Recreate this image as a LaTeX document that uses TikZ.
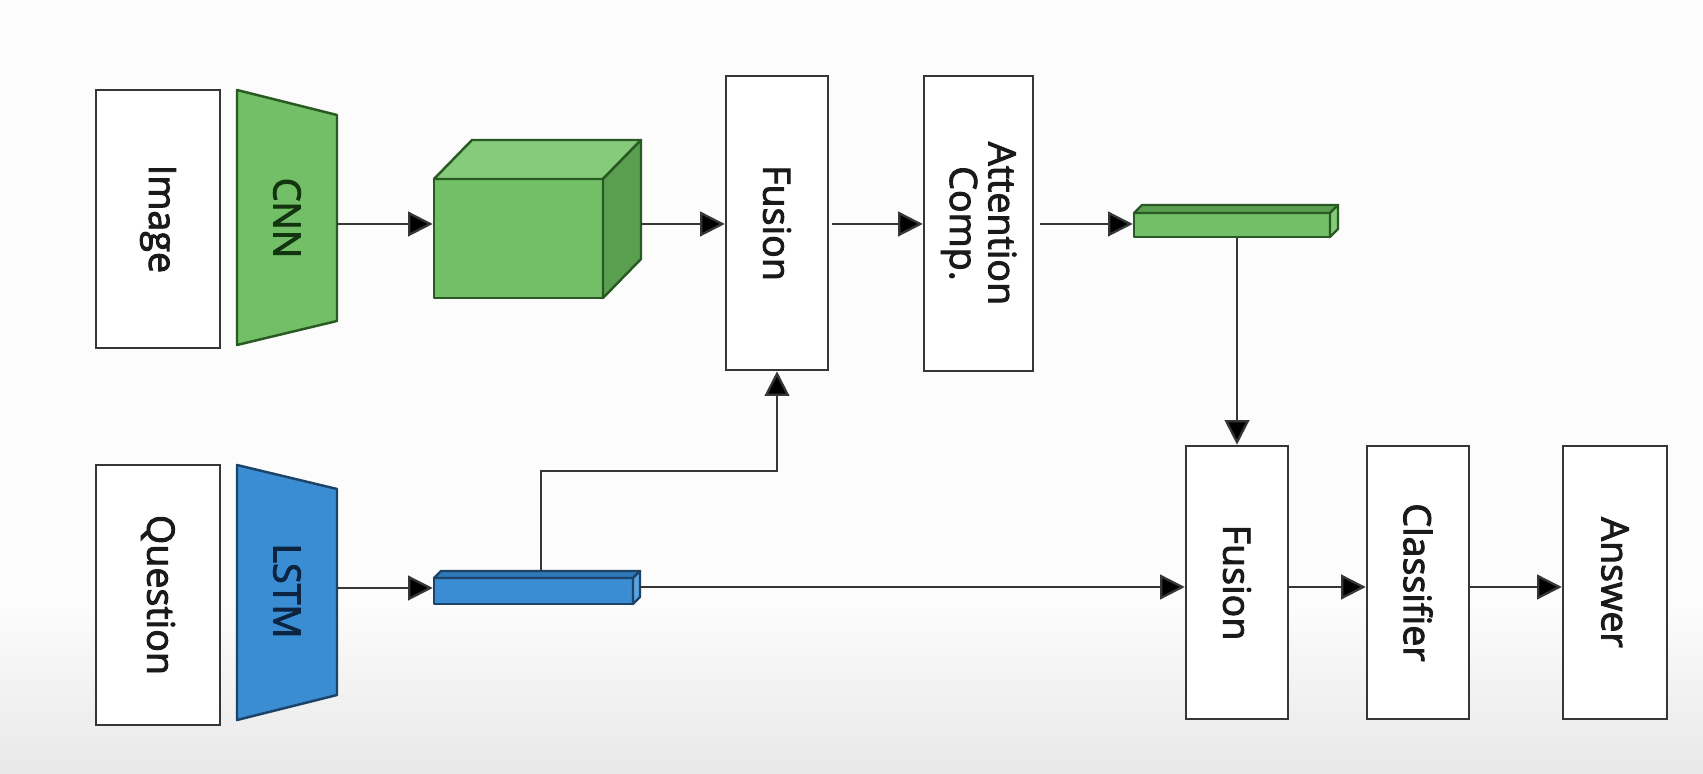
\documentclass[tikz,border=0pt]{standalone}
\usepackage{fontspec}
\setmainfont{Open Sans}
\newfontfamily\lblfont{Open Sans}[FakeBold=2.5]
\usetikzlibrary{arrows.meta}
\definecolor{gfill}{HTML}{72BF67}
\definecolor{gtop}{HTML}{86CB7B}
\definecolor{gside}{HTML}{5A9E50}
\definecolor{gline}{HTML}{2A5A24}
\definecolor{gtext}{HTML}{123510}
\definecolor{bfill}{HTML}{3A8DD3}
\definecolor{btop}{HTML}{2F78B8}
\definecolor{bside}{HTML}{5AA3E0}
\definecolor{bline}{HTML}{1C4468}
\definecolor{btext}{HTML}{0C2440}
\definecolor{ink}{HTML}{1A1A1A}
\definecolor{edge}{HTML}{363636}
\tikzset{
  lbl/.style={font=\lblfont\fontsize{10.7}{13}\selectfont},
  box/.style={draw=edge, line width=0.7pt, fill=white, inner sep=0pt, text=ink, lbl},
  arr/.style={draw=edge, line width=0.65pt, -{Triangle[length=7pt,width=7pt,fill=black]}},
  gface/.style={draw=gline, line width=0.7pt, line join=round},
  bface/.style={draw=bline, line width=0.7pt, line join=round},
}
\begin{document}
\begin{tikzpicture}[x=0.01cm,y=-0.01cm]
% background
\fill[white!99!black] (0,0) rectangle (1703,774);
\shade[top color=white!99!black, bottom color=black!9] (0,600) rectangle (1703,774);
\useasboundingbox (0,0) rectangle (1703,774);

% ---------- top row ----------
\node[box, minimum width=1.24cm, minimum height=2.58cm] (img) at (158,219) {\rotatebox{-90}{Image}};

% CNN trapezoid
\fill[gfill] (237,90) -- (337,115) -- (337,321) -- (237,345) -- cycle;
\draw[gface] (237,90) -- (337,115) -- (337,321) -- (237,345) -- cycle;
\node[text=gtext, lbl] (cnn) at (287,218) {\rotatebox{-90}{CNN}};
\coordinate (cnnR) at (337,224);

% cube
\node[gface, fill=gfill, minimum width=1.69cm, minimum height=1.19cm, inner sep=0pt] (cube) at (518.5,238.5) {};
\draw[gface, fill=gtop] (434,179) -- (472,140) -- (641,140) -- (603,179) -- cycle;
\draw[gface, fill=gside] (603,179) -- (641,140) -- (641,259) -- (603,298) -- cycle;
\coordinate (cubeR) at (641,224);

\node[box, minimum width=1.02cm, minimum height=2.94cm] (fus1) at (777,223) {\rotatebox{-90}{Fusion}};
\node[box, minimum width=1.09cm, minimum height=2.95cm] (att) at (978.5,223.5)
  {\rotatebox{-90}{\begin{tabular}{@{}c@{}}Attention\\[-2pt]Comp.\end{tabular}}};

% green bar
\node[gface, fill=gfill, minimum width=1.96cm, minimum height=0.24cm, inner sep=0pt] (gbar) at (1232,225) {};
\draw[gface, fill=gside] (1134,213) -- (1142,205) -- (1338,205) -- (1330,213) -- cycle;
\draw[gface, fill=gtop] (1330,213) -- (1338,205) -- (1338,229) -- (1330,237) -- cycle;

% ---------- bottom row ----------
\node[box, minimum width=1.24cm, minimum height=2.60cm] (qst) at (158,595) {\rotatebox{-90}{Question}};

\fill[bfill] (237,465) -- (337,489) -- (337,695) -- (237,720) -- cycle;
\draw[bface] (237,465) -- (337,489) -- (337,695) -- (237,720) -- cycle;
\node[text=btext, lbl] (lstm) at (287,591) {\rotatebox{-90}{LSTM}};
\coordinate (lstmR) at (337,588);

% blue bar
\node[bface, fill=bfill, minimum width=1.99cm, minimum height=0.26cm, inner sep=0pt] (bbar) at (533.5,591) {};
\draw[bface, fill=btop] (434,578) -- (441,571) -- (640,571) -- (633,578) -- cycle;
\draw[bface, fill=bside] (633,578) -- (640,571) -- (640,597) -- (633,604) -- cycle;
\coordinate (bbarR) at (640,587);
\coordinate (bbarT) at (541,571);
\coordinate (bend1) at (541,471);
\coordinate (bend2) at (777,471);

\node[box, minimum width=1.02cm, minimum height=2.73cm] (fus2) at (1237,582.5) {\rotatebox{-90}{Fusion}};
\node[box, minimum width=1.02cm, minimum height=2.73cm] (cls) at (1418,582.5) {\rotatebox{-90}{Classifier}};
\node[box, minimum width=1.04cm, minimum height=2.73cm] (ans) at (1615,582.5) {\rotatebox{-90}{Answer}};

% ---------- connectors ----------
\draw[arr] (cnnR) -- (cube.west |- cnnR);
\draw[arr] (cubeR) -- (fus1.west |- cubeR);
\draw[arr] (fus1.east |- cubeR) ++(3,0) -- (att.west |- cubeR);
\draw[arr] (att.east |- cubeR) ++(6,0) -- (gbar.west |- cubeR);
\draw[arr] (gbar.south -| fus2.north) -- (fus2.north);

\draw[arr] (lstmR) -- (bbar.west |- lstmR);
\draw[arr] (bbarT) -- (bend1) -- (bend2) -- (fus1.south);
\draw[arr] (bbarR) -- (fus2.west |- bbarR);
\draw[arr] (fus2.east |- bbarR) -- (cls.west |- bbarR);
\draw[arr] (cls.east |- bbarR) -- (ans.west |- bbarR);
\end{tikzpicture}
\end{document}
